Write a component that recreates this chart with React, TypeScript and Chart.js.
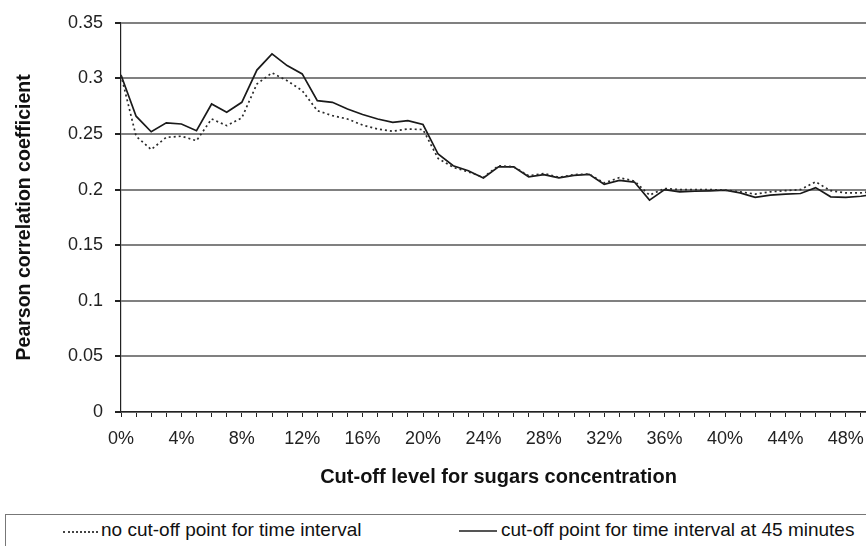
import React, { useEffect, useRef } from 'react';
import { Chart, registerables } from 'chart.js';

Chart.register(...registerables);

// Cut-off level for sugars concentration (%)
const cutoffLevels = [
  0, 1, 2, 3, 4, 5, 6, 7, 8, 9, 10, 11, 12, 13, 14, 15, 16, 17, 18, 19, 20,
  21, 22, 23, 24, 25, 26, 27, 28, 29, 30, 31, 32, 33, 34, 35, 36, 37, 38, 39, 40,
  41, 42, 43, 44, 45, 46, 47, 48, 49, 50,
];

// no cut-off point for time interval (dotted)
const noCutoff = [
  0.303, 0.248, 0.236, 0.247, 0.248, 0.244, 0.2635, 0.2575, 0.2645, 0.295, 0.305,
  0.298, 0.289, 0.271, 0.2665, 0.2635, 0.258, 0.2545, 0.2525, 0.2545, 0.254,
  0.228, 0.22, 0.216, 0.211, 0.2215, 0.2205, 0.2125, 0.2145, 0.211, 0.2135,
  0.214, 0.206, 0.2107, 0.2077, 0.195, 0.201, 0.2, 0.2, 0.2, 0.1995,
  0.198, 0.196, 0.198, 0.199, 0.2, 0.207, 0.199, 0.197, 0.197, 0.199,
];

// cut-off point for time interval at 45 minutes (solid)
const cutoff45 = [
  0.303, 0.266, 0.252, 0.26, 0.259, 0.253, 0.277, 0.2695, 0.2785, 0.3075, 0.322,
  0.3115, 0.304, 0.28, 0.2785, 0.2725, 0.2675, 0.2635, 0.2605, 0.262, 0.2585,
  0.232, 0.2215, 0.217, 0.2105, 0.2205, 0.2205, 0.2115, 0.2135, 0.2105, 0.2128,
  0.2137, 0.2048, 0.2083, 0.2068, 0.1905, 0.2, 0.198, 0.1985, 0.1988, 0.1994,
  0.197, 0.193, 0.195, 0.196, 0.1965, 0.2018, 0.1935, 0.193, 0.194, 0.196,
];

const seriesNames = [
  'no cut-off point for time interval',
  'cut-off point for time interval at 45 minutes',
];
const xTitle = 'Cut-off level for sugars concentration';
const yTitle = 'Pearson correlation coefficient';

const CANVAS_W = 900;
const CANVAS_H = 505;

export default function App() {
  const ref = useRef<HTMLCanvasElement | null>(null);

  useEffect(() => {
    if (!ref.current) return;
    const font = '"Liberation Sans", Arial, sans-serif';
    const chart = new Chart(ref.current, {
      type: 'line',
      data: {
        datasets: [
          {
            label: seriesNames[0],
            data: cutoffLevels.map((x, i) => ({ x, y: noCutoff[i] })),
            borderColor: '#2a2a2a',
            borderWidth: 1.7,
            borderDash: [2, 3],
            pointRadius: 0,
            tension: 0,
          },
          {
            label: seriesNames[1],
            data: cutoffLevels.map((x, i) => ({ x, y: cutoff45[i] })),
            borderColor: '#1a1a1a',
            borderWidth: 1.7,
            pointRadius: 0,
            tension: 0,
          },
        ],
      },
      options: {
        responsive: false,
        animation: false,
        layout: { padding: { top: 22, left: 0, right: 24, bottom: 0 } },
        plugins: { legend: { display: false }, tooltip: { enabled: false } },
        scales: {
          x: {
            type: 'linear',
            min: 0,
            max: 50,
            border: { display: true, color: '#222', width: 1.2 },
            grid: {
              display: true,
              drawOnChartArea: false,
              drawTicks: true,
              tickLength: 5,
              tickColor: '#222',
              lineWidth: 1,
            },
            ticks: {
              stepSize: 1,
              autoSkip: false,
              maxRotation: 0,
              padding: 11,
              color: '#222',
              font: { family: font, size: 18 },
              callback: (v: any) => (Number(v) % 4 === 0 ? `${v}%` : ''),
            },
            title: {
              display: true,
              text: xTitle,
              color: '#111',
              font: { family: font, size: 20, weight: 'bold' },
              padding: { top: 0, bottom: 16 },
            },
            afterFit: (s: any) => {
              s.height = CANVAS_H - 412;
            },
          },
          y: {
            min: 0,
            max: 0.35,
            border: { display: true, color: '#222', width: 1.2 },
            grid: {
              color: '#808080',
              lineWidth: 2,
              drawTicks: true,
              tickLength: 6,
              tickColor: '#222',
            },
            ticks: {
              stepSize: 0.05,
              padding: 12,
              color: '#222',
              font: { family: font, size: 18 },
              callback: (v: any) => String(Math.round(Number(v) * 100) / 100),
            },
            title: {
              display: true,
              text: yTitle,
              color: '#111',
              font: { family: font, size: 19.5, weight: 'bold' },
              padding: { top: 13, bottom: 0 },
            },
            afterFit: (s: any) => {
              s.width = 121;
            },
          },
        },
      },
    });
    return () => chart.destroy();
  }, []);

  const legendFont = '"Liberation Sans", Arial, sans-serif';

  return (
    <div
      style={{
        position: 'fixed',
        left: 0,
        top: 0,
        width: 866,
        height: 546,
        overflow: 'hidden',
        background: '#fff',
      }}
    >
      <canvas
        ref={ref}
        width={CANVAS_W}
        height={CANVAS_H}
        style={{ position: 'absolute', left: 0, top: 0, width: CANVAS_W, height: CANVAS_H }}
      />
      <div
        style={{
          position: 'absolute',
          left: 5,
          top: 514,
          width: 900,
          height: 60,
          border: '1px solid #777',
          boxSizing: 'border-box',
          fontFamily: legendFont,
          fontSize: 19,
          color: '#111',
        }}
      >
        <span
          style={{
            position: 'absolute',
            left: 57,
            top: 16,
            width: 35,
            borderTop: '2px dotted #444',
          }}
        />
        <span style={{ position: 'absolute', left: 95, top: 4, whiteSpace: 'nowrap' }}>
          {seriesNames[0]}
        </span>
        <span
          style={{
            position: 'absolute',
            left: 453,
            top: 15,
            width: 38,
            borderTop: '2px solid #555',
          }}
        />
        <span style={{ position: 'absolute', left: 495, top: 4, whiteSpace: 'nowrap' }}>
          {seriesNames[1]}
        </span>
      </div>
    </div>
  );
}
